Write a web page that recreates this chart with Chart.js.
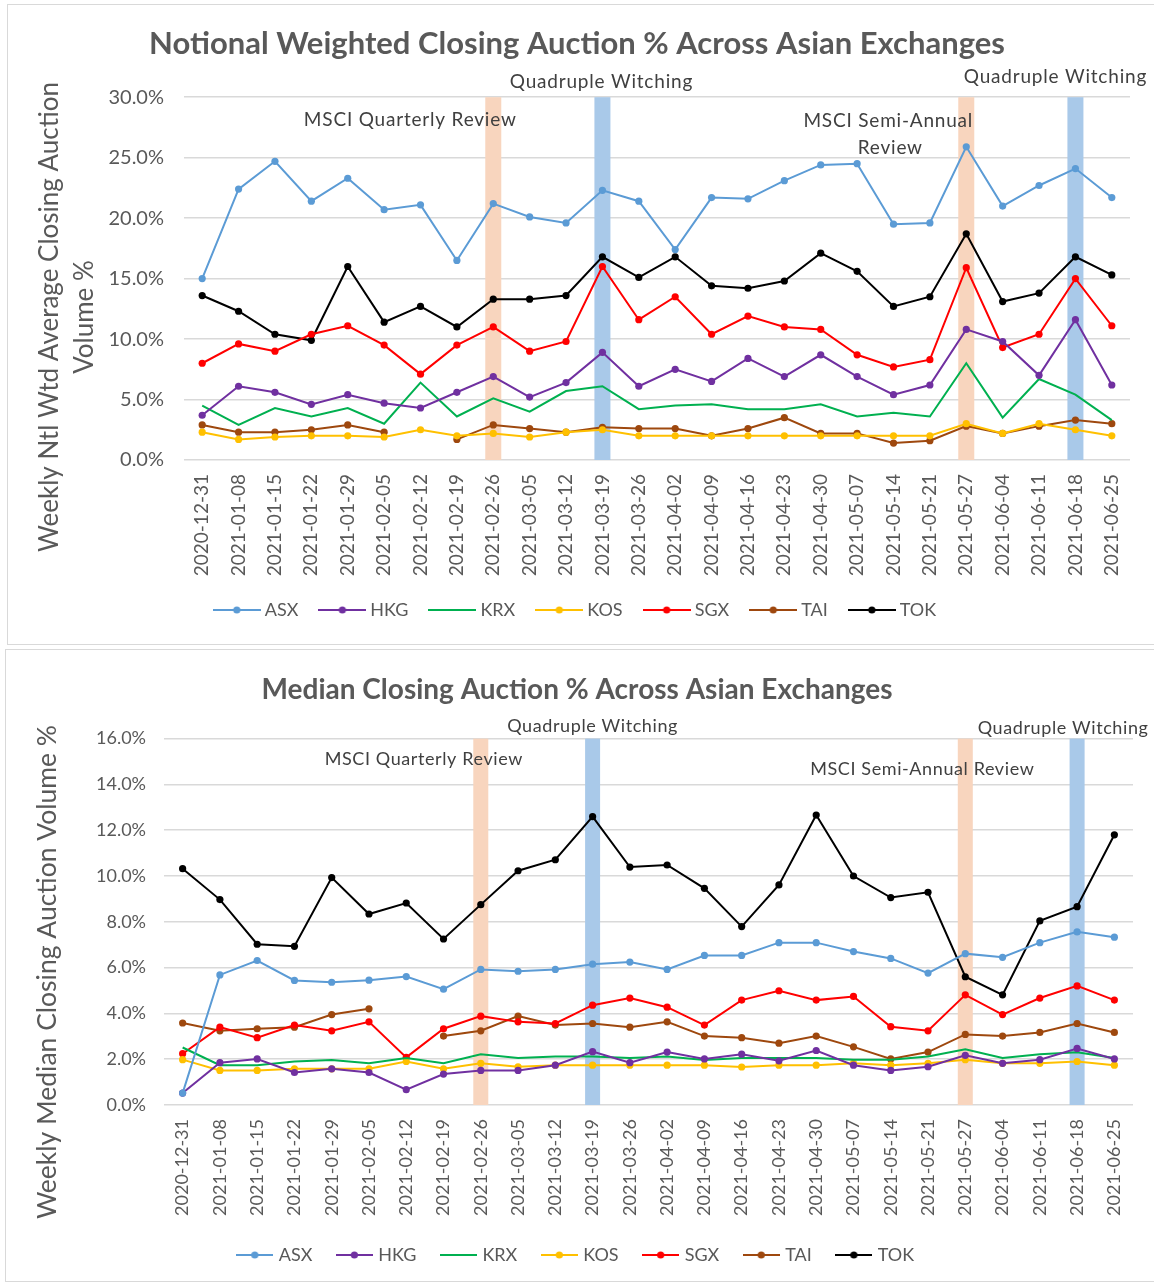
<!DOCTYPE html>
<html>
<head>
<meta charset="utf-8">
<script src="https://cdn.jsdelivr.net/npm/chart.js@4.4.1/dist/chart.umd.min.js"></script>
<style>
  body { margin: 0; background: #fff; width: 1154px; height: 1283px; overflow: hidden; position: relative; }
  .frame { position: absolute; border: 1.5px solid #d9d9d9; }
  #frameTop { left: 7px; top: 4px; width: 1150px; height: 639px; }
  #frameBottom { left: 5px; top: 649px; width: 1152px; height: 631px; }
  canvas { position: absolute; left: 0; }
  #chartTop { top: 0; width: 1154px; height: 646px; }
  #chartBottom { top: 646px; width: 1154px; height: 640px; }
</style>
</head>
<body>
<div class="frame" id="frameTop"></div>
<div class="frame" id="frameBottom"></div>
<canvas id="chartTop" width="1154" height="646"></canvas>
<canvas id="chartBottom" width="1154" height="640"></canvas>
<script>
const weeks = ['2020-12-31', '2021-01-08', '2021-01-15', '2021-01-22', '2021-01-29', '2021-02-05', '2021-02-12',
  '2021-02-19', '2021-02-26', '2021-03-05', '2021-03-12', '2021-03-19', '2021-03-26', '2021-04-02', '2021-04-09',
  '2021-04-16', '2021-04-23', '2021-04-30', '2021-05-07', '2021-05-14', '2021-05-21', '2021-05-27', '2021-06-04',
  '2021-06-11', '2021-06-18', '2021-06-25'];

const exchanges = ['ASX', 'HKG', 'KRX', 'KOS', 'SGX', 'TAI', 'TOK'];

// notional weighted average closing auction %
const asxWtd = [15.0, 22.4, 24.7, 21.4, 23.3, 20.7, 21.1, 16.5, 21.2, 20.1, 19.6, 22.3, 21.4, 17.4, 21.7, 21.6, 23.1, 24.4, 24.5, 19.5, 19.6, 25.9, 21.0, 22.7, 24.1, 21.7];
const hkgWtd = [3.7, 6.1, 5.6, 4.6, 5.4, 4.7, 4.3, 5.6, 6.9, 5.2, 6.4, 8.9, 6.1, 7.5, 6.5, 8.4, 6.9, 8.7, 6.9, 5.4, 6.2, 10.8, 9.8, 7.0, 11.6, 6.2];
const krxWtd = [4.5, 2.9, 4.3, 3.6, 4.3, 3.0, 6.4, 3.6, 5.1, 4.0, 5.7, 6.1, 4.2, 4.5, 4.6, 4.2, 4.2, 4.6, 3.6, 3.9, 3.6, 8.0, 3.5, 6.7, 5.4, 3.3];
const kosWtd = [2.3, 1.7, 1.9, 2.0, 2.0, 1.9, 2.5, 2.0, 2.2, 1.9, 2.3, 2.5, 2.0, 2.0, 2.0, 2.0, 2.0, 2.0, 2.0, 2.0, 2.0, 3.0, 2.2, 3.0, 2.5, 2.0];
const sgxWtd = [8.0, 9.6, 9.0, 10.4, 11.1, 9.5, 7.1, 9.5, 11.0, 9.0, 9.8, 16.0, 11.6, 13.5, 10.4, 11.9, 11.0, 10.8, 8.7, 7.7, 8.3, 15.9, 9.3, 10.4, 15.0, 11.1];
const taiWtd = [2.9, 2.3, 2.3, 2.5, 2.9, 2.3, null, 1.7, 2.9, 2.6, 2.3, 2.7, 2.6, 2.6, 2.0, 2.6, 3.5, 2.2, 2.2, 1.4, 1.6, 2.8, 2.2, 2.8, 3.3, 3.0];
const tokWtd = [13.6, 12.3, 10.4, 9.9, 16.0, 11.4, 12.7, 11.0, 13.3, 13.3, 13.6, 16.8, 15.1, 16.8, 14.4, 14.2, 14.8, 17.1, 15.6, 12.7, 13.5, 18.7, 13.1, 13.8, 16.8, 15.3];

// median closing auction %
const asxMed = [0.52, 5.68, 6.31, 5.44, 5.36, 5.45, 5.61, 5.06, 5.92, 5.84, 5.92, 6.15, 6.24, 5.92, 6.53, 6.53, 7.09, 7.09, 6.70, 6.40, 5.76, 6.61, 6.45, 7.09, 7.56, 7.33];
const hkgMed = [0.52, 1.85, 2.01, 1.42, 1.58, 1.42, 0.67, 1.35, 1.51, 1.51, 1.74, 2.33, 1.85, 2.31, 2.01, 2.22, 1.93, 2.38, 1.74, 1.51, 1.67, 2.17, 1.82, 1.98, 2.47, 2.01];
const krxMed = [2.51, 1.74, 1.74, 1.90, 1.96, 1.82, 2.05, 1.82, 2.22, 2.05, 2.12, 2.12, 2.05, 2.12, 1.96, 2.05, 2.05, 2.05, 1.98, 1.98, 2.12, 2.43, 2.05, 2.22, 2.30, 2.05];
const kosMed = [1.98, 1.51, 1.51, 1.58, 1.58, 1.58, 1.90, 1.58, 1.82, 1.67, 1.74, 1.74, 1.74, 1.74, 1.74, 1.66, 1.74, 1.74, 1.82, 1.74, 1.82, 1.98, 1.82, 1.82, 1.90, 1.74];
const sgxMed = [2.24, 3.40, 2.94, 3.49, 3.24, 3.63, 2.08, 3.33, 3.88, 3.63, 3.56, 4.36, 4.67, 4.27, 3.49, 4.58, 4.99, 4.58, 4.74, 3.42, 3.24, 4.81, 3.95, 4.67, 5.20, 4.58];
const taiMed = [3.58, 3.24, 3.33, 3.40, 3.95, 4.20, null, 3.01, 3.24, 3.88, 3.49, 3.56, 3.40, 3.63, 3.01, 2.94, 2.70, 3.01, 2.54, 2.01, 2.31, 3.08, 3.01, 3.17, 3.56, 3.17];
const tokMed = [10.32, 8.97, 7.02, 6.93, 9.93, 8.34, 8.82, 7.25, 8.75, 10.23, 10.71, 12.59, 10.39, 10.48, 9.46, 7.79, 9.61, 12.66, 10.00, 9.06, 9.29, 5.60, 4.81, 8.04, 8.66, 11.80];

// event weeks shaded on both charts
const msciWeeks = ['2021-02-26', '2021-05-27'];
const witchingWeeks = ['2021-03-19', '2021-06-18'];

const colors = {ASX: '#5B9BD5', HKG: '#7030A0', KRX: '#00B050', KOS: '#FFC000', SGX: '#FF0000', TAI: '#9E480E', TOK: '#000000'};
const noMarker = ['KRX'];
const FONT = 'Lato, "Open Sans", sans-serif';
const TEXT = '#595959';

function legendIcon(color, marker, w) {
  const c = document.createElement('canvas');
  c.width = w;
  c.height = 10;
  const g = c.getContext('2d');
  g.strokeStyle = color;
  g.lineWidth = 2;
  g.beginPath();
  g.moveTo(0, 5);
  g.lineTo(w, 5);
  g.stroke();
  if (marker) {
    g.fillStyle = color;
    g.beginPath();
    g.arc(w / 2, 5, 3.6, 0, Math.PI * 2);
    g.fill();
  }
  return c;
}

const bandPlugin = {
  id: 'bands',
  beforeDatasetsDraw(chart, args, opts) {
    const {ctx, chartArea, scales} = chart;
    ctx.save();
    opts.items.forEach(b => {
      const px = scales.x.getPixelForValue(weeks.indexOf(b.week));
      ctx.fillStyle = b.color;
      ctx.fillRect(px - opts.width / 2, chartArea.top, opts.width, chartArea.bottom - chartArea.top);
    });
    ctx.restore();
  }
};

const notesPlugin = {
  id: 'notes',
  afterDraw(chart, args, opts) {
    const {ctx, chartArea, scales} = chart;
    ctx.save();
    ctx.font = opts.font;
    ctx.letterSpacing = opts.spacing;
    ctx.fillStyle = '#404040';
    ctx.textAlign = 'center';
    ctx.textBaseline = 'middle';
    opts.items.forEach(n => {
      const px = scales.x.getPixelForValue(weeks.indexOf(n.week));
      ctx.fillText(n.text, px + n.dx, chartArea.top + n.dy);
    });
    ctx.restore();
  }
};

const yTitlePlugin = {
  id: 'ytitle',
  afterDraw(chart, args, opts) {
    const {ctx} = chart;
    ctx.save();
    ctx.font = opts.font;
    ctx.fillStyle = TEXT;
    ctx.textAlign = 'center';
    ctx.textBaseline = 'middle';
    opts.lines.forEach((line, i) => {
      ctx.save();
      ctx.translate(opts.x + i * opts.gap, opts.y);
      ctx.rotate(-Math.PI / 2);
      ctx.fillText(line, 0, 0);
      ctx.restore();
    });
    ctx.restore();
  }
};

function makeDatasets(series) {
  return exchanges.map((name, i) => ({
    label: name,
    data: series[i],
    borderColor: colors[name],
    backgroundColor: colors[name],
    borderWidth: 2,
    pointRadius: noMarker.includes(name) ? 0 : 3.6,
    pointHoverRadius: 4,
    pointBorderWidth: 0,
    tension: 0,
    spanGaps: false
  }));
}

function makeChart(id, cfg) {
  const bands = [];
  msciWeeks.forEach(w => bands.push({week: w, color: '#F8D5BE'}));
  witchingWeeks.forEach(w => bands.push({week: w, color: '#A9C9E9'}));

  return new Chart(document.getElementById(id), {
    type: 'line',
    data: {labels: weeks, datasets: makeDatasets(cfg.series)},
    plugins: [bandPlugin, notesPlugin, yTitlePlugin],
    options: {
      responsive: false,
      animation: false,
      layout: {padding: {left: cfg.padLeft, right: cfg.padRight, top: 0, bottom: cfg.padBottom}},
      plugins: {
        title: {
          display: true,
          text: cfg.title,
          color: TEXT,
          font: {family: FONT, size: cfg.titleSize, weight: 'bold'},
          padding: {top: cfg.titleTop, bottom: cfg.titleBottom}
        },
        legend: {
          position: 'bottom',
          labels: {
            usePointStyle: true,
            pointStyleWidth: cfg.legendBox,
            padding: cfg.legendPad,
            color: TEXT,
            font: {family: FONT, size: cfg.legendSize},
            generateLabels: chart => Chart.defaults.plugins.legend.labels.generateLabels(chart).map(item => {
              const name = exchanges[item.datasetIndex];
              item.pointStyle = legendIcon(colors[name], !noMarker.includes(name), cfg.legendIcon);
              return item;
            })
          }
        },
        tooltip: {enabled: false},
        bands: {width: cfg.bandWidth, items: bands},
        notes: {font: cfg.noteSize + 'px ' + FONT, spacing: cfg.noteSpacing, items: cfg.notes},
        ytitle: {font: cfg.yTitleSize + 'px ' + FONT, lines: cfg.yTitle, x: cfg.yTitleX, gap: cfg.yTitleGap, y: cfg.yTitleY}
      },
      scales: {
        x: {
          offset: true,
          grid: {display: false, drawTicks: false},
          border: {display: false},
          ticks: {color: TEXT, font: {family: FONT, size: cfg.xFontSize}, minRotation: 90, maxRotation: 90, padding: cfg.xPad, autoSkip: false},
          afterFit: s => { s.height = cfg.xHeight; }
        },
        y: {
          min: 0,
          max: cfg.yMax,
          grid: {color: '#d9d9d9', lineWidth: 1.5, drawTicks: false},
          border: {display: false},
          ticks: {stepSize: cfg.yStep, color: TEXT, font: {family: FONT, size: cfg.yFontSize}, padding: cfg.yPad,
            callback: v => v.toFixed(1) + '%'},
          afterFit: s => { s.width = cfg.yWidth; }
        }
      }
    }
  });
}

makeChart('chartTop', {
  series: [asxWtd, hkgWtd, krxWtd, kosWtd, sgxWtd, taiWtd, tokWtd],
  title: 'Notional Weighted Closing Auction % Across Asian Exchanges',
  titleSize: 31, titleTop: 25, titleBottom: 35,
  xFontSize: 19, yFontSize: 20,
  legendSize: 18, legendBox: 38, legendIcon: 48, legendPad: 25,
  padLeft: 24, padRight: 24, padBottom: 17,
  xHeight: 116, xPad: 14, yWidth: 160, yPad: 20, yMax: 30, yStep: 5,
  bandWidth: 16,
  noteSize: 19, noteSpacing: '0.8px',
  notes: [
    {text: 'Quadruple Witching', week: '2021-03-19', dx: -1, dy: -15},
    {text: 'Quadruple Witching', week: '2021-06-18', dx: -20, dy: -20},
    {text: 'MSCI Quarterly Review', week: '2021-02-26', dx: -83, dy: 23},
    {text: 'MSCI Semi-Annual', week: '2021-05-27', dx: -78, dy: 24},
    {text: 'Review', week: '2021-05-27', dx: -76, dy: 51}
  ],
  yTitle: ['Weekly Ntl Wtd Average Closing Auction', 'Volume %'],
  yTitleSize: 26, yTitleX: 50, yTitleGap: 35, yTitleY: 317
});

makeChart('chartBottom', {
  series: [asxMed, hkgMed, krxMed, kosMed, sgxMed, taiMed, tokMed],
  title: 'Median Closing Auction % Across Asian Exchanges',
  titleSize: 28, titleTop: 27, titleBottom: 32,
  xFontSize: 18, yFontSize: 18,
  legendSize: 18, legendBox: 30, legendIcon: 37, legendPad: 27,
  padLeft: 21, padRight: 21, padBottom: 12,
  xHeight: 114, xPad: 14, yWidth: 143, yPad: 18, yMax: 16, yStep: 2,
  bandWidth: 15,
  noteSize: 18, noteSpacing: '0.6px',
  notes: [
    {text: 'Quadruple Witching', week: '2021-03-19', dx: 0, dy: -12},
    {text: 'Quadruple Witching', week: '2021-06-18', dx: -14, dy: -10},
    {text: 'MSCI Quarterly Review', week: '2021-02-26', dx: -57, dy: 21},
    {text: 'MSCI Semi-Annual Review', week: '2021-05-27', dx: -43, dy: 31}
  ],
  yTitle: ['Weekly Median Closing Auction Volume %'],
  yTitleSize: 26.5, yTitleX: 47, yTitleGap: 0, yTitleY: 326
});
</script>
</body>
</html>
